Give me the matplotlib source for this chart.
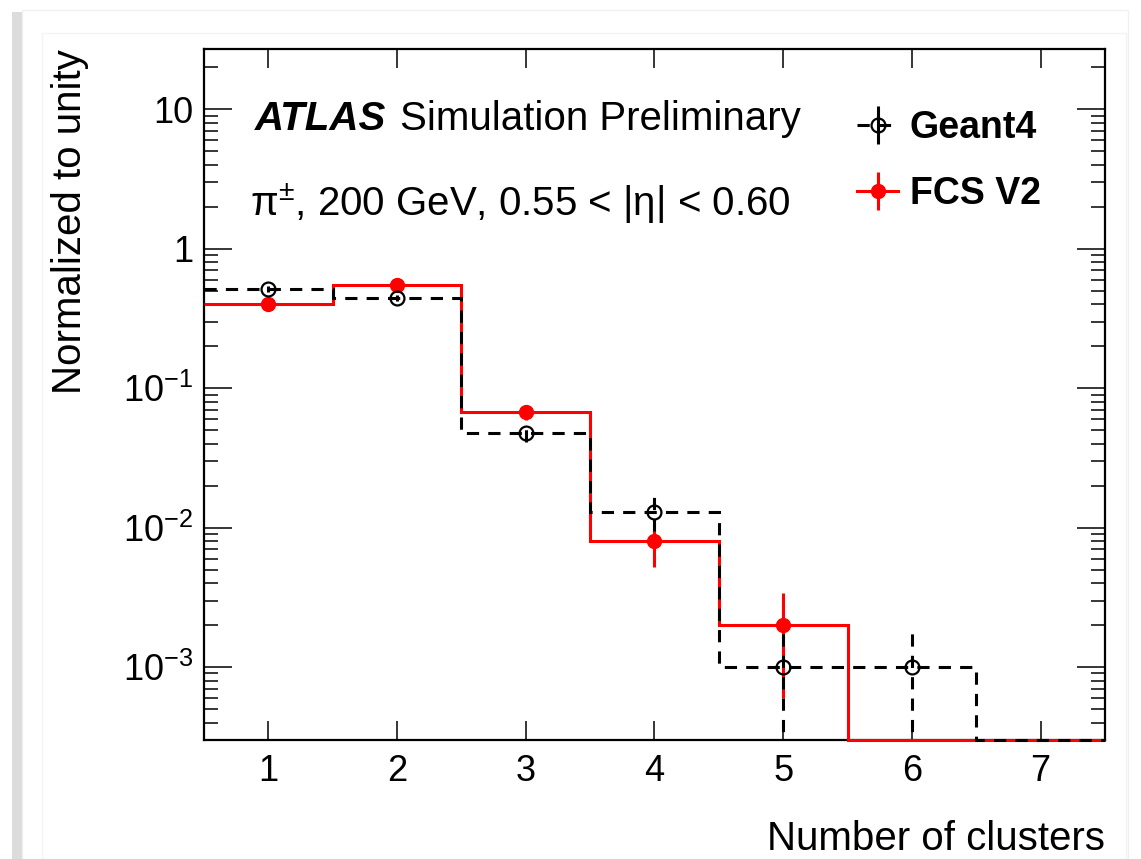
import numpy as np
import matplotlib
matplotlib.use("Agg")
import matplotlib.pyplot as plt
from matplotlib.lines import Line2D
from matplotlib.collections import LineCollection
from matplotlib.container import ErrorbarContainer
from matplotlib.patches import Rectangle
from matplotlib.ticker import FixedLocator, FixedFormatter, LogLocator, NullFormatter

# Data: number of clusters, normalized to unity
edges = np.arange(0.5, 8.0, 1.0)
centers = np.arange(1, 8)
geant4 = np.array([0.515, 0.444, 0.048, 0.013, 0.001, 0.001, 0.0])
geant4_err = np.array([0.023, 0.021, 0.0069, 0.0036, 0.001, 0.001, 0.0])
fcs = np.array([0.40, 0.55, 0.067, 0.008, 0.002, 0.0, 0.0])
fcs_err = np.array([0.020, 0.023, 0.0082, 0.0028, 0.0014, 0.0, 0.0])

ytick_vals = [1e-3, 1e-2, 1e-1, 1, 10]
ytick_labels = [r'$10^{-3}$', r'$10^{-2}$', r'$10^{-1}$', '1', '10']
ymin, ymax = 3e-4, 27

plt.rcParams['font.family'] = ['Liberation Sans', 'DejaVu Sans']
plt.rcParams['mathtext.fontset'] = 'custom'
plt.rcParams['mathtext.rm'] = 'Liberation Sans'
plt.rcParams['mathtext.it'] = 'Liberation Sans:italic'
plt.rcParams['mathtext.bf'] = 'Liberation Sans:bold'

fig = plt.figure(figsize=(11.41, 8.59), dpi=100)
fig.patch.set_facecolor('white')

# card frame around the plot
W, H = 1141.0, 859.0
fig.patches.append(Rectangle((12 / W, 0), 10 / W, 1 - 12 / H, transform=fig.transFigure,
                             facecolor='#dcdcdc', edgecolor='none', zorder=-5))
fig.patches.append(Rectangle((22 / W, 0), 1106 / W, 1 - 10 / H, transform=fig.transFigure,
                             facecolor='white', edgecolor='#f0f0f0', lw=1, zorder=-4))
fig.patches.append(Rectangle((42 / W, 0), 1084 / W, 1 - 33 / H, transform=fig.transFigure,
                             facecolor='white', edgecolor='#f3f3f3', lw=1, zorder=-3))

ax = fig.add_axes([204 / W, 1 - 740 / H, 901 / W, 691 / H])
ax.set_yscale('log')

# histograms (empty bins drawn along the lower edge, like ROOT)
red_step = ax.stairs(np.clip(fcs, ymin, None), edges, baseline=None,
                     color='red', lw=2.2, zorder=4)
blk_step = ax.stairs(np.clip(geant4, ymin, None), edges, baseline=None,
                     color='black', lw=2.2, linestyle=(0, (4, 3)), zorder=5)
red_step.set_clip_on(False)
blk_step.set_clip_on(False)

# points with errors (only non-empty bins)
m = fcs > 0
eb = ax.errorbar(centers[m], fcs[m], yerr=fcs_err[m], fmt='o', color='red',
                 ms=10, elinewidth=2.2, capsize=0, zorder=6)
m = geant4 > 0
eb2 = ax.errorbar(centers[m], geant4[m], yerr=geant4_err[m], fmt='o', color='black',
                  mfc='none', mew=1.6, ms=10, elinewidth=2.2, capsize=0, zorder=7)
for bc in eb2[2]:
    bc.set_linestyle((0, (4, 3)))

ax.set_xlim(0.5, 7.5)
ax.set_ylim(ymin, ymax)

ax.xaxis.set_major_locator(FixedLocator(centers))
ax.yaxis.set_major_locator(FixedLocator(ytick_vals))
ax.yaxis.set_major_formatter(FixedFormatter(ytick_labels))
ax.yaxis.set_minor_locator(LogLocator(base=10, subs=np.arange(2, 10), numticks=20))
ax.yaxis.set_minor_formatter(NullFormatter())

ax.tick_params(which='both', direction='in', top=True, right=True, width=1.1, colors='black')
ax.tick_params(axis='x', which='major', length=14, labelsize=26, pad=10)
ax.tick_params(axis='y', which='major', length=20, labelsize=26, pad=8)
ax.tick_params(axis='y', which='minor', length=10)
for s in ax.spines.values():
    s.set_linewidth(1.6)
    s.set_zorder(3)

fig.text(70 / W, 1 - 49 / H, 'Normalized to unity', rotation=90, ha='center', va='top', fontsize=29)
fig.text(1105 / W, 1 - 850 / H, 'Number of clusters', ha='right', va='baseline', fontsize=29)

ax.text(0.0566, 0.883, 'ATLAS', transform=ax.transAxes, fontsize=29,
        fontweight='bold', fontstyle='italic', va='baseline')
ax.text(0.2175, 0.883, 'Simulation Preliminary', transform=ax.transAxes, fontsize=29, va='baseline')
ax.text(0.051, 0.758, r'π$^{\pm}$, 200 GeV, 0.55 < |η| < 0.60',
        transform=ax.transAxes, fontsize=29, va='baseline')

# legend proxies
g_line = Line2D([], [], color='black', ls=(0, (4, 3)), lw=2.2, marker='o', mfc='none', mew=1.6, ms=10)
g_bar = LineCollection([], colors='black', linewidths=2.2)
f_line = Line2D([], [], color='red', lw=2.2, marker='o', ms=10)
f_bar = LineCollection([], colors='red', linewidths=2.2)
h_g = ErrorbarContainer((g_line, (), (g_bar,)), has_yerr=True)
h_f = ErrorbarContainer((f_line, (), (f_bar,)), has_yerr=True)
leg = ax.legend([h_g, h_f], ['Geant4', 'FCS V2'], loc='upper left',
                bbox_to_anchor=((857 - 204) / 901, (740 - 110) / 691),
                frameon=False, prop={'weight': 'bold', 'size': 27},
                handlelength=1.1, handletextpad=0.3, labelspacing=0.8,
                borderaxespad=0, borderpad=0)

fig.savefig('out.png', dpi=100)
